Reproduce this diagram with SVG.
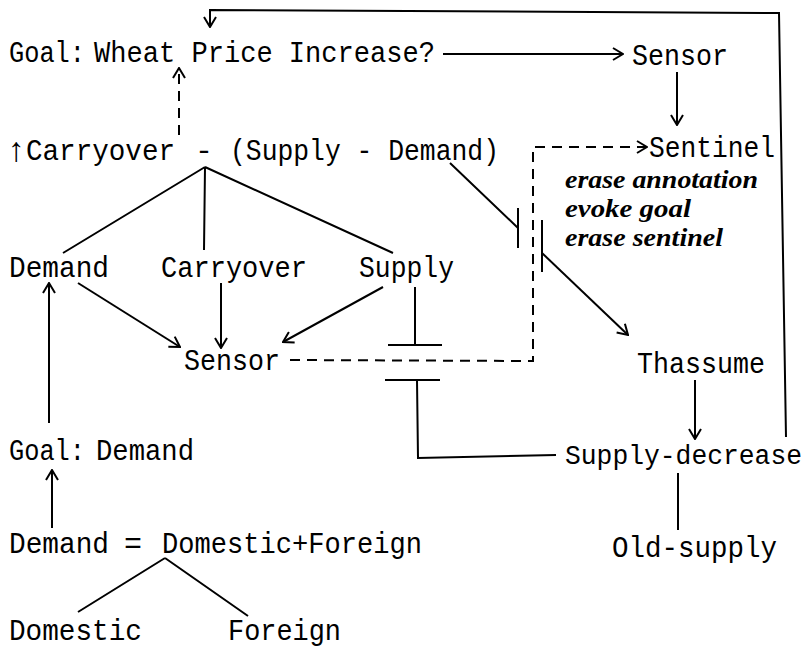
<svg xmlns="http://www.w3.org/2000/svg" width="811" height="651" viewBox="0 0 811 651">
<defs>
<style>
.t{font-family:"Liberation Mono","DejaVu Sans Mono",monospace;font-size:30px;fill:#000}
.a{font-family:"Liberation Serif","DejaVu Serif",serif;font-size:25px;font-weight:bold;font-style:italic;fill:#000}
.l{fill:none;stroke:#000;stroke-width:2}
.d{fill:none;stroke:#000;stroke-width:2;stroke-dasharray:10 7}
</style>
<marker id="ah" viewBox="0 0 12 14" refX="11" refY="7" markerWidth="12" markerHeight="14" markerUnits="userSpaceOnUse" orient="auto">
<path d="M1,1 L11,7 L1,13" fill="none" stroke="#000" stroke-width="2"/>
</marker>
</defs>
<rect width="811" height="651" fill="#fff"/>

<g id="connectors">
<path class="l" d="M786,437 L779,13 L210,10 L210,27" marker-end="url(#ah)"/>
<path class="l" d="M443,54 L623,54" marker-end="url(#ah)"/>
<path class="l" d="M677,72 L677,125" marker-end="url(#ah)"/>
<path class="d" d="M179,135 L179,68" marker-end="url(#ah)"/>
<path class="d" d="M290,360 L533,361 L533,147 L647,147" marker-end="url(#ah)"/>
<path class="l" d="M205,167 L63,253 M205,167 L204,250 M205,167 L393,253"/>
<path class="l" d="M78,283 L180,347" marker-end="url(#ah)"/>
<path class="l" d="M221,283 L221,348" marker-end="url(#ah)"/>
<path class="l" d="M383,287 L283,342" marker-end="url(#ah)"/>
<path class="l" d="M450,163 L518,228 M518,208 L518,248"/>
<path class="l" d="M542,220 L542,272"/>
<path class="l" d="M542,253 L628,335" marker-end="url(#ah)"/>
<path class="l" d="M415,287 L415,345 M388,345 L442,345"/>
<path class="l" d="M385,380 L440,380 M417,380 L418,458 L556,455"/>
<path class="l" d="M695,380 L695,439" marker-end="url(#ah)"/>
<path class="l" d="M678,473 L678,530"/>
<path class="l" d="M49,423 L49,283" marker-end="url(#ah)"/>
<path class="l" d="M52,528 L52,470" marker-end="url(#ah)"/>
<path class="l" d="M165,558 L78,612 M165,558 L248,616"/>
</g>

<g id="goal-wheat"><text class="t" x="9" y="62" textLength="76" lengthAdjust="spacingAndGlyphs">Goal:</text><text class="t" x="94" y="62" textLength="341" lengthAdjust="spacingAndGlyphs">Wheat Price Increase?</text></g>
<g id="sensor-top"><text class="t" x="632" y="65" textLength="96" lengthAdjust="spacingAndGlyphs">Sensor</text></g>
<g id="carryover-expr"><text class="t" x="6" y="161" style="font-size:34px">↑</text><text class="t" x="26" y="160" textLength="149" lengthAdjust="spacingAndGlyphs">Carryover</text><text class="t" x="195" y="160">-</text><text class="t" x="230" y="160" textLength="269" lengthAdjust="spacingAndGlyphs">(Supply - Demand)</text></g>
<g id="sentinel"><text class="t" x="649" y="157" textLength="126" lengthAdjust="spacingAndGlyphs">Sentinel</text>
<text class="a" x="565" y="188" textLength="193" lengthAdjust="spacingAndGlyphs">erase annotation</text>
<text class="a" x="565" y="217" textLength="126" lengthAdjust="spacingAndGlyphs">evoke goal</text>
<text class="a" x="565" y="246" textLength="158" lengthAdjust="spacingAndGlyphs">erase sentinel</text></g>
<g id="demand"><text class="t" x="9" y="277" textLength="100" lengthAdjust="spacingAndGlyphs">Demand</text></g>
<g id="carryover"><text class="t" x="161" y="277" textLength="146" lengthAdjust="spacingAndGlyphs">Carryover</text></g>
<g id="supply"><text class="t" x="359" y="277" textLength="95" lengthAdjust="spacingAndGlyphs">Supply</text></g>
<g id="sensor-low"><text class="t" x="184" y="370" textLength="96" lengthAdjust="spacingAndGlyphs">Sensor</text></g>
<g id="thassume"><text class="t" x="637" y="373" textLength="128" lengthAdjust="spacingAndGlyphs">Thassume</text></g>
<g id="goal-demand"><text class="t" x="9" y="460" textLength="76" lengthAdjust="spacingAndGlyphs">Goal:</text><text class="t" x="96" y="460" textLength="98" lengthAdjust="spacingAndGlyphs">Demand</text></g>
<g id="supply-decrease"><text class="t" x="565" y="464" style="font-size:27px" textLength="237" lengthAdjust="spacingAndGlyphs">Supply-decrease</text></g>
<g id="demand-eq"><text class="t" x="9" y="553" textLength="100" lengthAdjust="spacingAndGlyphs">Demand</text><text class="t" x="124" y="553">=</text><text class="t" x="162" y="553" textLength="260" lengthAdjust="spacingAndGlyphs">Domestic+Foreign</text></g>
<g id="old-supply"><text class="t" x="612" y="557" textLength="165" lengthAdjust="spacingAndGlyphs">Old-supply</text></g>
<g id="domestic"><text class="t" x="9" y="640" textLength="133" lengthAdjust="spacingAndGlyphs">Domestic</text></g>
<g id="foreign"><text class="t" x="228" y="640" textLength="113" lengthAdjust="spacingAndGlyphs">Foreign</text></g>
</svg>
